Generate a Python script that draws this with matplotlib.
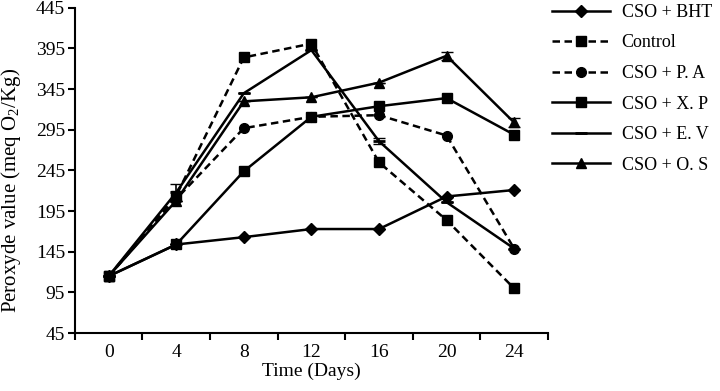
import matplotlib
matplotlib.use("Agg")
import matplotlib.pyplot as plt

plt.rcParams['font.family'] = ['Liberation Serif', 'DejaVu Serif']
plt.rcParams['mathtext.fontset'] = 'custom'
plt.rcParams['mathtext.rm'] = 'Liberation Serif'

# data
days = ['0', '4', '8', '12', '16', '20', '24']
bht = [115, 154, 163, 173, 173, 213, 221]
control = [115, 214, 384, 401, 255, 184, 100]
pa = [115, 210, 297, 311, 313, 288, 149]
xp = [115, 154, 244, 311, 324, 334, 289]
ev = [115, 218, 340, 393, 281, 206, 149]
ev_err = [0, 10, 0, 0, 4, 0, 0]
os_ = [115, 208, 330, 335, 353, 386, 304]
os_err = [0, 0, 0, 0, 0, 5, 5]

x = list(range(len(days)))

fig = plt.figure(figsize=(7.2, 3.91), dpi=100)
ax = fig.add_axes([0.104, 0.148, 0.657, 0.832])

lw = 1.8
dash = (0, (3.0, 1.8))
ax.plot(x, bht, color='black', lw=lw, marker='D', ms=6.5, label='CSO + BHT')
ax.plot(x, control, color='black', lw=lw, ls=dash, marker='s', ms=7, label='Control')
ax.plot(x, pa, color='black', lw=lw, ls=dash, marker='o', ms=7, label='CSO + P. A')
ax.plot(x, xp, color='black', lw=lw, marker='s', ms=7, label='CSO + X. P')
ax.plot(x, ev, color='black', lw=lw, marker='_', ms=9, mew=2, label='CSO + E. V')
ax.plot(x, os_, color='black', lw=lw, marker='^', ms=7, label='CSO + O. S')
# small error bars seen on a few points
ax.errorbar(x, ev, yerr=ev_err, fmt='none', ecolor='black', capsize=4, elinewidth=1.2)
ax.errorbar(x, os_, yerr=os_err, fmt='none', ecolor='black', capsize=4, elinewidth=1.2)

ax.set_xlim(-0.5, 6.5)
ax.set_ylim(45, 445)
ax.set_yticks(range(45, 446, 50))
ax.set_xticks(x)
ax.set_xticklabels(days)
ax.tick_params(axis='x', which='major', length=0, pad=8, labelsize=14)
ax.set_xticks([i - 0.5 for i in range(len(days) + 1)], minor=True)
ax.tick_params(axis='x', which='minor', length=5, width=1.5, direction='out')
ax.tick_params(axis='y', length=5, width=1.5, direction='out', labelsize=14, pad=2)

for s in ['top', 'right']:
    ax.spines[s].set_visible(False)
for s in ['left', 'bottom']:
    ax.spines[s].set_linewidth(1.5)

ax.set_xlabel('Time (Days)', fontsize=14, labelpad=1)
ax.set_ylabel('Peroxyde value (meq O$_2$/Kg)', fontsize=15)
ax.yaxis.set_label_coords(-0.11, 0.44)

fig.legend(loc='upper left', bbox_to_anchor=(552 / 720, 0.99), frameon=False,
           fontsize=13, borderpad=0, borderaxespad=0,
           handlelength=3.2, labelspacing=0.75, handletextpad=0.65, numpoints=1)

fig.savefig('out.png', dpi=100)
